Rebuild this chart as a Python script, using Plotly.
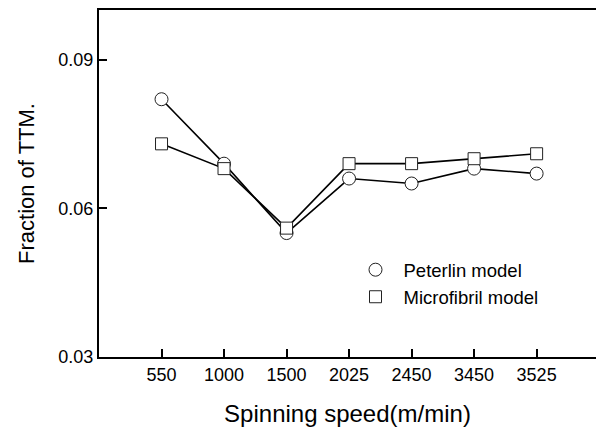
import plotly.graph_objects as go

# Spinning speeds (m/min), shown as evenly spaced categories
speeds = ["550", "1000", "1500", "2025", "2450", "3450", "3525"]

# Fraction of TTM from each model
peterlin = [0.082, 0.069, 0.055, 0.066, 0.065, 0.068, 0.067]
microfibril = [0.073, 0.068, 0.056, 0.069, 0.069, 0.070, 0.071]

y_ticks = [0.03, 0.06, 0.09]
y_tick_text = ["0.03", "0.06", "0.09"]

font_family = "Liberation Sans, Arial, sans-serif"

series = [
    ("Peterlin model", peterlin, "circle", 13),
    ("Microfibril model", microfibril, "square", 12),
]

fig = go.Figure()
# connecting lines first, then open markers on top of them
for name, values, _, _ in series:
    fig.add_trace(go.Scatter(
        x=speeds, y=values, mode="lines", showlegend=False,
        line=dict(color="black", width=1.6), hoverinfo="skip",
    ))
for name, values, symbol, size in series:
    fig.add_trace(go.Scatter(
        x=speeds, y=values, name=name, mode="markers",
        marker=dict(symbol=symbol, size=size, color="white",
                    line=dict(color="#222", width=1)),
    ))

fig.update_layout(
    width=596, height=430,
    margin=dict(l=99, r=0, t=10, b=73),
    paper_bgcolor="white", plot_bgcolor="white",
    font=dict(family=font_family, color="black", size=18),
    showlegend=True,
    legend=dict(
        x=0.50, y=0.305, xanchor="left", yanchor="top",
        bgcolor="rgba(0,0,0,0)", font=dict(size=18.5),
        itemwidth=46, tracegroupgap=0,
    ),
)

fig.update_xaxes(
    type="category", range=[-1, 6.95],
    showline=True, linecolor="black", linewidth=2, mirror=True,
    ticks="inside", ticklen=8, tickwidth=1.5, tickcolor="black",
    showgrid=False, zeroline=False,
    tickfont=dict(size=18),
    title=dict(text="Spinning speed(m/min)", font=dict(size=24), standoff=22),
)
fig.update_yaxes(
    range=[0.03, 0.10],
    tickvals=y_ticks, ticktext=y_tick_text,
    showline=True, linecolor="black", linewidth=2, mirror=False,
    ticks="inside", ticklen=8, tickwidth=1.5, tickcolor="black",
    showgrid=False, zeroline=False,
    tickfont=dict(size=18),
    title=dict(text="Fraction of TTM.", font=dict(size=22), standoff=18),
)

fig.write_html("out.html")
